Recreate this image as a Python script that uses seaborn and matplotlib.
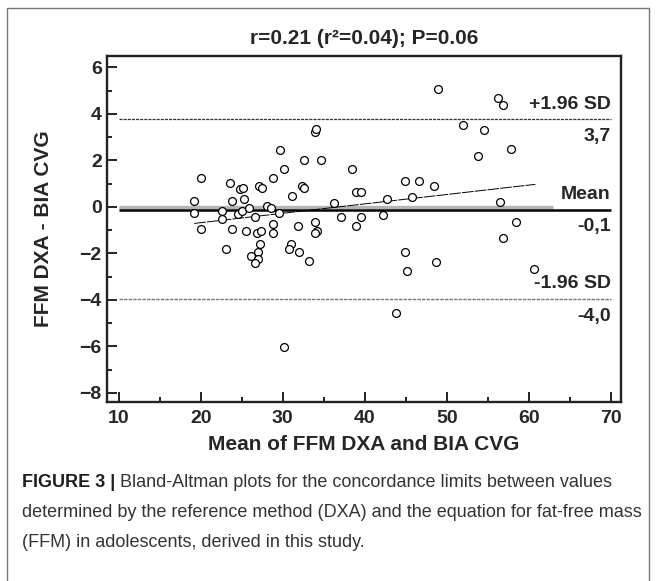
import numpy as np
import pandas as pd
import seaborn as sns
import matplotlib.pyplot as plt
from matplotlib.patches import Rectangle
from matplotlib.ticker import MultipleLocator

# mean of the two methods (x) and DXA - BIA difference (y)
mean_ffm = [19.2, 19.2, 20.0, 20.0, 22.6, 22.55, 23.1, 23.6, 23.85, 23.85,
            24.8, 25.1, 25.3, 24.5, 25.0, 25.9, 26.6, 25.5, 26.8, 27.4,
            27.2, 27.0, 26.1, 27.0, 26.6, 27.1, 27.5, 28.1, 28.6, 29.55,
            28.85, 28.85, 28.8, 29.67, 30.16, 30.2, 31.0, 30.7, 31.17, 31.8,
            32.0, 32.6, 32.3, 32.6, 33.2, 33.98, 34.1, 34.7, 33.9, 34.15,
            33.9, 36.3, 37.1, 38.5, 38.9, 39.5, 38.9, 39.5, 42.2, 42.7,
            43.8, 44.9, 44.9, 45.2, 45.8, 46.6, 48.4, 48.7, 48.9, 52.0,
            53.8, 54.5, 56.3, 56.8, 56.5, 56.8, 57.8, 58.5, 60.7]
diff_ffm = [0.25, -0.25, 1.23, -0.93, -0.16, -0.53, -1.82, 1.01, 0.25, -0.94,
            0.77, 0.83, 0.34, -0.32, -0.16, -0.03, -0.42, -1.03, -1.14, -1.04,
            -1.61, -1.93, -2.11, -2.23, -2.43, 0.91, 0.83, 0.05, -0.03, -0.25,
            1.23, -0.74, -1.14, 2.45, 1.63, -6.04, -1.61, -1.82, 0.47, -0.84,
            -1.93, 2.02, 0.91, 0.8, -2.34, 3.23, 3.33, 2.02, -0.64, -1.04,
            -1.14, 0.15, -0.45, 1.62, 0.65, 0.65, -0.83, -0.45, -0.36, 0.34,
            -4.56, 1.1, -1.95, -2.74, 0.44, 1.1, 0.9, -2.37, 5.07, 3.52,
            2.2, 3.32, 4.69, 4.38, 0.22, -1.35, 2.5, -0.66, -2.68]

# fitted trend line, as drawn in the figure
trend_x = [19.2, 60.8]
trend_y = [-0.71, 0.97]

# limits of agreement
sd_upper = 3.76
mean_diff = -0.13
sd_lower = -3.97
zero_ref = 0.0
limit_names = ['+1.96 SD', 'Mean', '-1.96 SD']
limit_values = ['3,7', '-0,1', '-4,0']

title = 'r=0.21 (r²=0.04); P=0.06'
caption = ['Bland-Altman plots for the concordance limits between values',
           'determined by the reference method (DXA) and the equation for fat-free mass',
           '(FFM) in adolescents, derived in this study.']

df = pd.DataFrame({'mean': mean_ffm, 'diff': diff_ffm})

sns.set_style("ticks")
plt.rcParams['font.family'] = ['Liberation Sans', 'DejaVu Sans']
plt.rcParams['font.weight'] = 'bold'

W, H = 657, 581
fig = plt.figure(figsize=(W / 100, H / 100), dpi=100)
ax = fig.add_axes([107.3 / W, 1 - 402 / H, (621 - 107.3) / W, (402 - 56) / H])

# reference lines
ax.hlines(zero_ref, 10, 63, colors='#b4b4b4', lw=2.4, zorder=1)
ax.hlines(mean_diff, 10, 70, colors='black', lw=1.8, zorder=2)
ax.hlines(sd_upper, 10, 70, colors='#333333', lw=0.9, linestyles=(0, (2.5, 0.8)), zorder=2)
ax.hlines(sd_lower, 10, 70, colors='#777777', lw=1.0, linestyles=(0, (2.5, 0.8)), zorder=2)

# trend of difference against mean
sns.lineplot(x=trend_x, y=trend_y, ax=ax, color='black', lw=0.7,
             linestyle=(0, (12, 1.2)), zorder=2)

sns.scatterplot(data=df, x='mean', y='diff', ax=ax, marker='o', s=32,
                color='white', edgecolor='black', linewidth=0.9, zorder=4)

ax.set_xlim(8.6, 71.25)
ax.set_ylim(-8.39, 6.49)
ax.xaxis.set_major_locator(MultipleLocator(10))
ax.xaxis.set_minor_locator(MultipleLocator(5))
ax.yaxis.set_major_locator(MultipleLocator(2))
ax.yaxis.set_minor_locator(MultipleLocator(1))
ax.tick_params(which='both', direction='in', width=1.4, color='#222222', labelsize=14)
ax.tick_params(which='major', length=7.5)
ax.tick_params(which='minor', length=3.8)
ax.tick_params(axis='x', pad=6)
ax.tick_params(axis='y', pad=4)
for s in ax.spines.values():
    s.set_linewidth(1.7)
    s.set_color('#222222')

ax.set_title(title, fontsize=15, fontweight='bold', pad=9)
ax.set_xlabel('Mean of FFM DXA and BIA CVG', fontsize=15, fontweight='bold')
ax.set_ylabel('FFM DXA - BIA CVG', fontsize=15, fontweight='bold')
ax.xaxis.set_label_coords(0.5, -0.095)
ax.yaxis.set_label_coords(-0.106, 0.5)

# labels of the limit lines
for name, val, yv in zip(limit_names, limit_values, [sd_upper, mean_diff, sd_lower]):
    ax.annotate(name, xy=(70, yv), xytext=(0, 5), textcoords='offset points',
                ha='right', va='bottom', fontsize=14, fontweight='bold')
    ax.annotate(val, xy=(70, yv), xytext=(0, -6), textcoords='offset points',
                ha='right', va='top', fontsize=14, fontweight='bold')

# caption
cap0 = fig.text(22 / W, 1 - 487 / H, 'FIGURE 3 |', fontsize=13, fontweight='bold',
                color='#1e1e1e', va='baseline')
ax.annotate(' ' + caption[0], xy=(1, 0), xycoords=cap0, va='bottom', ha='left',
            fontsize=13, fontweight='normal', color='#333333', annotation_clip=False)
for i, line in enumerate(caption[1:]):
    fig.text(22 / W, 1 - (517 + 30 * i) / H, line, fontsize=13, fontweight='normal',
             color='#333333', va='baseline')

# frame round the figure
fig.patches.append(Rectangle((7 / W, -0.02), (649 - 7) / W, 1.02 - 8 / H,
                             transform=fig.transFigure, fill=False, lw=1.0,
                             edgecolor='#777777'))

fig.savefig('out.png', dpi=100)
